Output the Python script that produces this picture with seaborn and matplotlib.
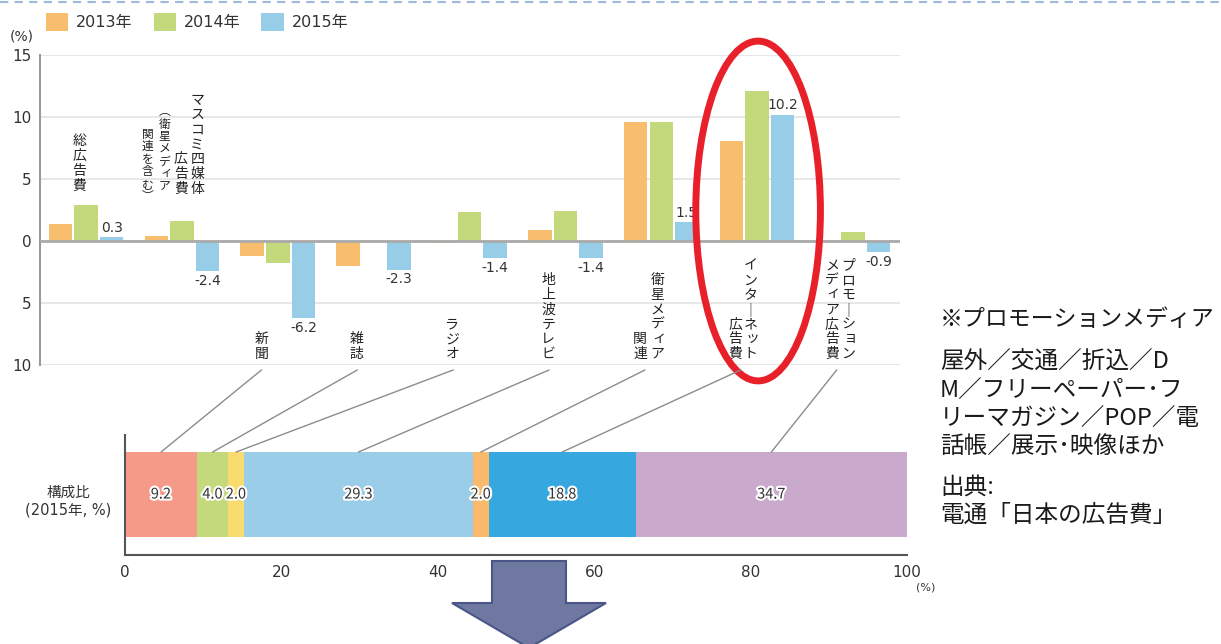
import matplotlib
matplotlib.use('Agg')
import matplotlib.pyplot as plt
import matplotlib.patheffects as pe
from matplotlib.patches import Ellipse, Polygon, ConnectionPatch
from matplotlib.lines import Line2D
import seaborn as sns
import numpy as np
import pandas as pd

# ---- データ ----
media = ['総広告費', 'マスコミ四媒体広告費', '新聞', '雑誌', 'ラジオ', '地上波テレビ',
         '衛星メディア関連', 'インターネット広告費', 'プロモーションメディア広告費']
years = ['2013年', '2014年', '2015年']
growth_2013 = [1.4, 0.4, -1.2, -2.0, -0.2, 0.9, 9.6, 8.1, -0.1]
growth_2014 = [2.9, 1.6, -1.8, 0.0, 2.3, 2.4, 9.6, 12.1, 0.7]
growth_2015 = [0.3, -2.4, -6.2, -2.3, -1.4, -1.4, 1.5, 10.2, -0.9]

share_media = ['新聞', '雑誌', 'ラジオ', '地上波テレビ', '衛星メディア関連',
               'インターネット広告費', 'プロモーションメディア広告費']
share_2015 = [9.2, 4.0, 2.0, 29.3, 2.0, 18.8, 34.7]

year_colors = ['#F9BD6E', '#C3D97B', '#98CDE8']
share_colors = ['#F59A89', '#C3D97B', '#FADC6E', '#9ACDE8', '#F9BA6C', '#36A8DF', '#C9A9CC']

note_lines = ['※プロモーションメディア', '屋外／交通／折込／D', 'M／フリーペーパー･フ',
              'リーマガジン／POP／電', '話帳／展示･映像ほか', '出典:', '電通「日本の広告費」']

# 縦書きラベル (列テキスト, xオフセット, 下端y, 文字サイズ)
label_columns = {
    '総広告費': [('総広告費', -0.07, 3.87, 10)],
    'マスコミ四媒体広告費': [('マスコミ四媒体', 0.16, 3.63, 10), ('広告費', -0.01, 3.63, 10),
                     ('（衛星メディア', -0.18, 3.87, 8.5), ('関連を含む）', -0.36, 3.06, 8.5)],
    '新聞': [('新聞', -0.17, -9.7, 10)],
    '雑誌': [('雑誌', -0.18, -9.7, 10)],
    'ラジオ': [('ラジオ', -0.18, -9.7, 10)],
    '地上波テレビ': [('地上波テレビ', -0.18, -9.7, 10)],
    '衛星メディア関連': [('衛星メディア', -0.04, -9.7, 10), ('関連', -0.22, -9.7, 10)],
    'インターネット広告費': [('インターネット', -0.07, -9.7, 10), ('広告費', -0.23, -9.7, 10)],
    'プロモーションメディア広告費': [('プロモーション', -0.05, -9.7, 10), ('メディア広告費', -0.22, -9.7, 10)],
}

W, H = 1221, 644
JP = ['Noto Sans CJK JP', 'DejaVu Sans']

sns.set_style('white')
plt.rcParams['font.family'] = ['DejaVu Sans', 'Noto Sans CJK JP']
plt.rcParams['text.color'] = '#333333'

fig = plt.figure(figsize=(W / 100, H / 100), dpi=100)
fig.patch.set_facecolor('white')

# ---- 上段: 伸び率の棒グラフ ----
ax1 = fig.add_axes([40 / W, 1 - 365 / H, 860 / W, 310 / H])
df = pd.DataFrame({
    '媒体': np.tile(media, 3),
    '年': np.repeat(years, len(media)),
    '伸び率': growth_2013 + growth_2014 + growth_2015,
})
sns.barplot(data=df, x='媒体', y='伸び率', hue='年', order=media, hue_order=years,
            palette=year_colors, width=0.8, gap=0.08, saturation=1, linewidth=0,
            errorbar=None, ax=ax1)

ax1.set_xlim(-0.48, 8.49)
ax1.set_ylim(-10, 15)
ax1.set_xticks([])
ax1.set_xlabel('')
ax1.set_ylabel('')
ax1.set_yticks([-10, -5, 0, 5, 10, 15])
ax1.set_yticklabels(['10', '5', '0', '5', '10', '15'])
ax1.tick_params(axis='y', length=0, pad=6, labelsize=11, labelcolor='#333333')
ax1.yaxis.grid(True, color='#E3E3E3', lw=1.2)
ax1.set_axisbelow(True)
ax1.axhline(0, color='#AAAAAA', lw=2, zorder=3)
for s in ['top', 'right', 'bottom']:
    ax1.spines[s].set_visible(False)
ax1.spines['left'].set_color('#999999')
ax1.spines['left'].set_linewidth(1.5)

# 2015年の値ラベル
ax1.bar_label(ax1.containers[2], fmt='%.1f', padding=2, fontsize=10, color='#333333')

# 凡例
sns.move_legend(ax1, 'center left', bbox_to_anchor=(46 / W, 1 - 22 / H),
                bbox_transform=fig.transFigure, ncol=3, frameon=False, title=None,
                fontsize=11.5, handlelength=1.4, handleheight=1.4, handletextpad=0.5,
                columnspacing=1.3, borderpad=0, borderaxespad=0)

fig.text(22 / W, 1 - 37 / H, '(%)', ha='center', va='center', fontsize=10)

# 縦書きラベル
vert_map = {'ー': '｜', '（': '︵', '）': '︶'}
small_kana = set('ァィゥェォッャュョ')


def draw_vertical(ax, x, y_bottom, s, fs):
    chars = [vert_map.get(c, c) for c in s]
    n = len(chars)
    step = fs * 1.06
    for i, ch in enumerate(chars):
        dx, dy = 0, (n - 1 - i + 0.5) * step
        if ch in small_kana:
            dx += fs * 0.12
            dy += fs * 0.12
        ax.annotate(ch, xy=(x, y_bottom), xytext=(dx, dy), textcoords='offset points',
                    ha='center', va='center', fontsize=fs, color='#222222',
                    annotation_clip=False, family=JP)


for k, name in enumerate(media):
    for text, dx, yb, fs in label_columns[name]:
        draw_vertical(ax1, k + dx, yb, text, fs)

# 赤い楕円
ax1.add_patch(Ellipse((7.01, 2.42), width=1.30, height=27.4, fill=False,
                      ec='#E8202A', lw=5, clip_on=False, zorder=6))

# ---- 下段: 構成比 ----
ax2 = fig.add_axes([125 / W, 1 - 555 / H, 782 / W, 120 / H])
lefts = np.concatenate([[0], np.cumsum(share_2015)[:-1]])
bars = ax2.barh(0.504, share_2015, left=lefts, height=0.708, color=share_colors, linewidth=0)
for b, v in zip(bars, share_2015):
    ax2.text(b.get_x() + b.get_width() / 2, 0.504, f'{v:.1f}', ha='center', va='center',
             fontsize=10.5, color='#333333', family=JP,
             path_effects=[pe.withStroke(linewidth=3, foreground='white')])
ax2.set_xlim(0, 100)
ax2.set_ylim(0, 1)
ax2.set_xticks([0, 20, 40, 60, 80, 100])
ax2.set_yticks([])
ax2.tick_params(axis='x', length=0, pad=7, labelsize=11, labelcolor='#333333')
for s in ['top', 'right']:
    ax2.spines[s].set_visible(False)
for s in ['left', 'bottom']:
    ax2.spines[s].set_color('#555555')
    ax2.spines[s].set_linewidth(1.5)

fig.text(68 / W, 1 - 493 / H, '構成比', ha='center', va='center', fontsize=10.5, family=JP)
fig.text(68 / W, 1 - 510 / H, '(2015年, %)', ha='center', va='center', fontsize=10.5)
fig.text(926 / W, 1 - 588 / H, '(%)', ha='center', va='center', fontsize=8)

# 引き出し線
mids = lefts + np.array(share_2015) / 2
for name, mid in zip(share_media, mids):
    k = media.index(name)
    con = ConnectionPatch(xyA=(k - 0.17, -10.4), coordsA=ax1.transData,
                          xyB=(mid, 0.858), coordsB=ax2.transData,
                          color='#8C8C8C', lw=1)
    fig.add_artist(con)

# 下向き矢印
pts = [(492, 561), (566, 561), (566, 603), (606, 603), (529, 648), (452, 603), (492, 603)]
fig.add_artist(Polygon([(x / W, 1 - y / H) for x, y in pts], closed=True,
                       transform=fig.transFigure, fc='#6E78A0', ec='#4B5688', lw=1.5))

# 上端の破線
fig.add_artist(Line2D([0, 1], [1 - 2 / H, 1 - 2 / H], transform=fig.transFigure,
                      color='#9FB9D9', lw=1.5, ls=(0, (4, 3))))

# 右側の注記
note_y = [319, 362, 391, 419, 447, 487, 515]
for t, y in zip(note_lines, note_y):
    fs = 16.5 if t.startswith('※') else 17
    fig.text(940 / W, 1 - y / H, t, ha='left', va='center', fontsize=fs,
             color='#1A1A1A', family=JP)

fig.savefig('out.png', dpi=100)
